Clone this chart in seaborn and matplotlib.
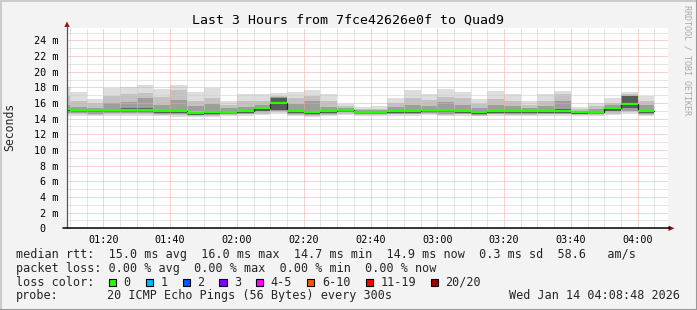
import numpy as np
import pandas as pd
import matplotlib
matplotlib.use("Agg")
import matplotlib.pyplot as plt
import matplotlib.dates as mdates
from matplotlib.ticker import MultipleLocator, FixedLocator
from matplotlib.patches import Polygon, Rectangle
from matplotlib.lines import Line2D
import seaborn as sns

sns.set_theme(style="white")
plt.rcParams["font.family"] = ["DejaVu Sans Mono"]

# ---------------- data ----------------
title = "Last 3 Hours from 7fce42626e0f to Quad9"
bar_start = pd.date_range("2026-01-14 01:05", "2026-01-14 04:00", freq="5min")  # 36 bars (5 min)
view_start = pd.Timestamp("2026-01-14 01:09:06")
view_end = pd.Timestamp("2026-01-14 04:09:06")

smoke_max = [18.0, 17.4, 16.5, 17.9, 18.1, 18.3, 17.75, 18.3, 17.4, 17.9, 16.3, 17.15,
             17.15, 17.3, 17.45, 17.65, 17.15, 15.9, 15.45, 15.6, 16.6, 17.6, 17.15, 17.8,
             17.4, 16.5, 17.5, 17.1, 16.2, 17.1, 17.5, 15.45, 16.05, 16.6, 17.4, 16.9]
smoke_upper = [16.9, 16.2, 16.0, 16.9, 17.1, 17.3, 16.8, 17.6, 16.3, 16.7, 15.8, 16.3,
               16.3, 16.95, 16.6, 16.9, 16.3, 15.6, 15.2, 15.25, 16.0, 16.6, 16.4, 16.8,
               16.6, 15.9, 16.5, 16.3, 15.8, 16.3, 17.2, 15.2, 15.6, 16.0, 17.1, 16.3]
smoke_inner_hi = [15.8, 15.5, 15.4, 16.0, 16.1, 16.6, 15.8, 16.4, 15.6, 15.9, 15.3, 15.5,
                  15.8, 16.75, 15.9, 16.2, 15.5, 15.4, 15.05, 15.05, 15.5, 15.7, 15.6, 16.1,
                  15.8, 15.3, 15.7, 15.6, 15.4, 15.6, 16.3, 15.0, 15.25, 15.7, 17.0, 15.7]
smoke_dense_hi = [15.3, 15.2, 15.15, 15.25, 15.3, 15.35, 15.1, 15.15, 14.9, 14.95, 15.0, 15.1,
                  15.45, 16.7, 15.15, 15.0, 15.1, 15.2, 14.95, 14.95, 15.1, 15.1, 15.15, 15.25,
                  15.1, 14.95, 15.1, 15.05, 15.05, 15.1, 15.2, 14.9, 15.0, 15.45, 16.9, 15.05]
median_rtt = [15.2, 15.1, 15.05, 15.1, 15.1, 15.1, 14.95, 14.95, 14.7, 14.8, 14.9, 15.0,
              15.35, 16.0, 15.0, 14.8, 15.0, 15.1, 14.9, 14.9, 15.0, 15.0, 15.05, 15.1,
              15.0, 14.85, 15.0, 14.95, 14.95, 15.0, 15.0, 14.85, 14.9, 15.35, 15.9, 14.95]
smoke_dense_lo = [14.9, 14.85, 14.8, 14.85, 14.85, 14.85, 14.7, 14.7, 14.5, 14.55, 14.7, 14.75,
                  15.0, 15.1, 14.75, 14.55, 14.75, 14.9, 14.7, 14.7, 14.75, 14.75, 14.8, 14.8,
                  14.75, 14.6, 14.75, 14.7, 14.7, 14.75, 14.75, 14.65, 14.7, 15.0, 15.3, 14.7]
smoke_inner_lo = [14.75, 14.7, 14.65, 14.7, 14.7, 14.7, 14.6, 14.6, 14.45, 14.45, 14.6, 14.65,
                  14.8, 14.95, 14.65, 14.45, 14.65, 14.8, 14.6, 14.6, 14.65, 14.65, 14.7, 14.65,
                  14.65, 14.5, 14.65, 14.6, 14.6, 14.65, 14.65, 14.55, 14.6, 14.8, 15.0, 14.6]
smoke_lower = [14.6, 14.55, 14.5, 14.55, 14.55, 14.55, 14.45, 14.45, 14.35, 14.35, 14.5, 14.55,
               14.6, 14.8, 14.5, 14.35, 14.5, 14.65, 14.5, 14.5, 14.55, 14.55, 14.6, 14.5,
               14.55, 14.4, 14.55, 14.5, 14.5, 14.55, 14.55, 14.45, 14.5, 14.65, 14.8, 14.5]
smoke_min = [14.4, 14.35, 14.3, 14.3, 14.3, 14.35, 14.3, 14.25, 14.2, 14.2, 14.35, 14.4,
             14.45, 14.55, 14.3, 14.2, 14.35, 14.5, 14.4, 14.35, 14.4, 14.4, 14.45, 14.3,
             14.4, 14.3, 14.4, 14.35, 14.35, 14.4, 14.4, 14.35, 14.4, 14.5, 14.55, 14.35]

y_ticks = list(range(0, 25, 2))
y_tick_labels = ["0  "] + [f"{v} m" for v in range(2, 25, 2)]
x_tick_times = pd.date_range("2026-01-14 01:20", "2026-01-14 04:00", freq="20min")
x_tick_labels = [t.strftime("%H:%M") for t in x_tick_times]

legend_rtt = "median rtt:  15.0 ms avg  16.0 ms max  14.7 ms min  14.9 ms now  0.3 ms sd  58.6   am/s"
legend_loss = "packet loss: 0.00 % avg  0.00 % max  0.00 % min  0.00 % now"
loss_labels = ["0", "1", "2", "3", "4-5", "6-10", "11-19", "20/20"]
loss_colors = ["#26ff00", "#00b8ff", "#0059ff", "#7e00ff", "#ff00ff", "#ff5500", "#ff0000", "#a10000"]
probe_text = "20 ICMP Echo Pings (56 Bytes) every 300s"
date_text = "Wed Jan 14 04:08:48 2026"

# ---------------- figure ----------------
W, H = 697, 310
def fx(x):
    return x / W
def fy(y):
    return 1 - y / H

fig = plt.figure(figsize=(W / 100, H / 100), dpi=100, facecolor="#f3f3f3")
ax = fig.add_axes([fx(67), fy(228.3), (668 - 67) / W, 200 / H])
ax.set_facecolor("white")

x0 = mdates.date2num(bar_start.to_pydatetime())
w5 = 5 / 1440.0

layers = [
    (smoke_min, smoke_max, "#dddddd"),
    (smoke_lower, smoke_upper, "#c2c2c2"),
    (smoke_inner_lo, smoke_inner_hi, "#9e9e9e"),
    (smoke_dense_lo, smoke_dense_hi, "#5a5a5a"),
]
for lo, hi, col in layers:
    lo = np.asarray(lo); hi = np.asarray(hi)
    ax.bar(x0, hi - lo, bottom=lo, width=w5, align="edge", color=col, linewidth=0, zorder=1)

# median: dark step line + green loss-colour segments
edges = np.append(x0, x0[-1] + w5)
med_steps = np.append(median_rtt, median_rtt[-1])
step_df = pd.DataFrame({"t": edges, "median": med_steps})
sns.lineplot(data=step_df, x="t", y="median", drawstyle="steps-post", color="#202020",
             linewidth=0.9, ax=ax, zorder=4, legend=False)
ax.hlines(median_rtt, x0, x0 + w5, colors=loss_colors[0], linewidth=1.6, zorder=5,
          capstyle="butt")
ax.set_xlabel("")
ax.set_ylabel("")

ax.set_xlim(mdates.date2num(view_start), mdates.date2num(view_end))
ax.set_ylim(0, 25.54)

ax.xaxis.set_major_locator(FixedLocator(mdates.date2num(x_tick_times.to_pydatetime())))
ax.xaxis.set_minor_locator(mdates.MinuteLocator(byminute=range(0, 60, 5)))
ax.set_xticklabels(x_tick_labels)
ax.yaxis.set_major_locator(FixedLocator(y_ticks))
ax.yaxis.set_minor_locator(MultipleLocator(1))
ax.set_yticklabels(y_tick_labels)

ax.set_axisbelow(False)
ax.grid(which="minor", color="#cccccc", linestyle=(0, (1, 1)), linewidth=0.72)
ax.grid(which="major", color="#f4a4a4", linestyle=(0, (1, 1)), linewidth=0.72)
for gl in ax.get_xgridlines() + ax.get_ygridlines():
    gl.set_zorder(3)

ax.tick_params(axis="both", which="major", labelsize=7.3, colors="#000000", length=2.8,
               width=0.8, direction="out", pad=2.2)
ax.tick_params(axis="both", which="minor", length=0)
ax.tick_params(axis="y", which="major", pad=3.2)
for s in ax.spines.values():
    s.set_visible(False)

# axis lines with arrows
fig.add_artist(Line2D([fx(67), fx(67)], [fy(228.3), fy(26)], transform=fig.transFigure,
                      color="#555555", linewidth=0.9))
fig.add_artist(Line2D([fx(63), fx(670)], [fy(228.3), fy(228.3)], transform=fig.transFigure,
                      color="#000000", linewidth=1.1))
arrow_col = "#a01010"
fig.add_artist(Polygon([(fx(64.3), fy(27)), (fx(69.7), fy(27)), (fx(67), fy(21.5))],
                       closed=True, transform=fig.transFigure, color=arrow_col, linewidth=0))
fig.add_artist(Polygon([(fx(668.5), fy(225.6)), (fx(668.5), fy(231)), (fx(674.5), fy(228.3))],
                       closed=True, transform=fig.transFigure, color=arrow_col, linewidth=0))

# frame (3D border)
fig.add_artist(Line2D([0, 0, 1], [0, 1, 1], transform=fig.transFigure, color="#cbcbcb", linewidth=2.2))
fig.add_artist(Line2D([0, 1, 1], [0, 0, 1], transform=fig.transFigure, color="#999999", linewidth=2.2))

# texts
fig.text(fx(348), fy(24), title, ha="center", va="baseline", fontsize=9.5, color="#000000")
fig.text(fx(10), fy(127), "Seconds", rotation=90, ha="center", va="center", fontsize=8.3)
fig.text(fx(687.5), fy(60), "RRDTOOL / TOBI OETIKER", rotation=270, ha="center", va="center",
         fontsize=6.0, color="#a9a9a9")

fig.text(fx(16), fy(257.7), legend_rtt, ha="left", va="baseline", fontsize=8.5)
fig.text(fx(16), fy(271.7), legend_loss, ha="left", va="baseline", fontsize=8.5)
fig.text(fx(16), fy(285.7), "loss color:", ha="left", va="baseline", fontsize=8.5)
box_x = [108.7, 145.7, 182.7, 219.3, 256.0, 307.0, 366.0, 430.7]
for bx, lab, col in zip(box_x, loss_labels, loss_colors):
    fig.add_artist(Rectangle((fx(bx), fy(286)), 7.3 / W, 7.3 / H, transform=fig.transFigure,
                             facecolor=col, edgecolor="#000000", linewidth=0.8))
    fig.text(fx(bx + 14.8), fy(285.7), lab, ha="left", va="baseline", fontsize=8.5)
fig.text(fx(16), fy(299.3), "probe:", ha="left", va="baseline", fontsize=8.5)
fig.text(fx(107.3), fy(299.3), probe_text, ha="left", va="baseline", fontsize=8.5)
fig.text(fx(680), fy(299.3), date_text, ha="right", va="baseline", fontsize=8.5)

fig.savefig("out.png", dpi=100, facecolor=fig.get_facecolor())
